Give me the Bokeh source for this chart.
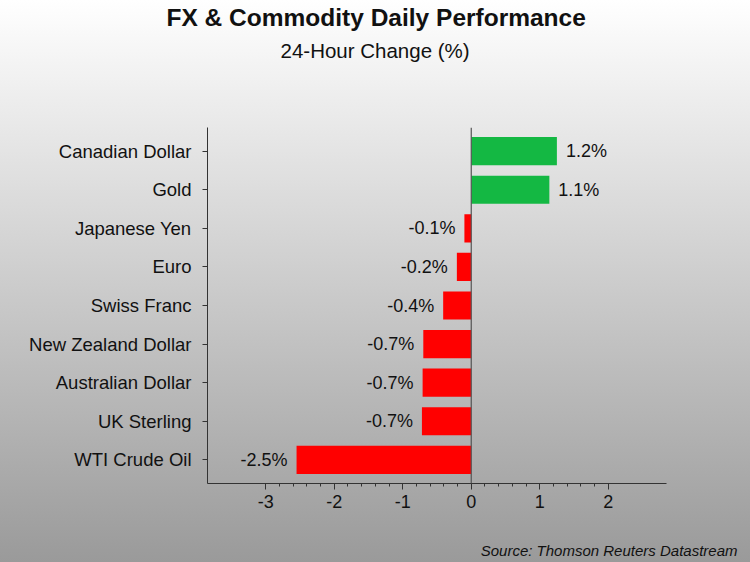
from bokeh.plotting import figure
from bokeh.models import (ColumnDataSource, FactorRange, Range1d, Span, Title, FixedTicker)
from bokeh.core.properties import value
from bokeh.embed import file_html
from bokeh.resources import INLINE

# ---- data ----
categories = ["Canadian Dollar", "Gold", "Japanese Yen", "Euro", "Swiss Franc",
              "New Zealand Dollar", "Australian Dollar", "UK Sterling", "WTI Crude Oil"]
changes = [1.25, 1.14, -0.10, -0.21, -0.41, -0.70, -0.71, -0.72, -2.55]
value_labels = ["1.2%", "1.1%", "-0.1%", "-0.2%", "-0.4%", "-0.7%", "-0.7%", "-0.7%", "-2.5%"]
x_ticks = [-3, -2, -1, 0, 1, 2]
minor_per_interval = 5

title_text = "FX & Commodity Daily Performance"
subtitle_text = "24-Hour Change (%)"
source_text = "Source: Thomson Reuters Datastream"

GREEN = "#14b843"
RED = "#ff0000"
FONT = "Liberation Sans"
INK = "#111111"

colors = [GREEN if v >= 0 else RED for v in changes]
aligns = ["left" if v >= 0 else "right" for v in changes]
offsets = [9 if v >= 0 else -9 for v in changes]
minor_ticks = [a + (b - a) * k / minor_per_interval
               for a, b in zip(x_ticks[:-1], x_ticks[1:])
               for k in range(1, minor_per_interval)]

src = ColumnDataSource(dict(cat=categories, val=changes, lab=value_labels,
                            color=colors, align=aligns, off=offsets))

p = figure(width=750, height=562, output_backend="svg", toolbar_location=None,
           title=None,
           y_range=FactorRange(factors=list(reversed(categories)), range_padding=0.025),
           x_range=Range1d(-3.85, 2.85),
           min_border_left=207, min_border_right=84, min_border_top=127, min_border_bottom=79)

p.styles = {"background": "linear-gradient(180deg, #ffffff 0%, #9a9a9a 100%)"}
p.border_fill_color = None
p.background_fill_color = None
p.outline_line_color = None
p.xgrid.grid_line_color = None
p.ygrid.grid_line_color = None

p.add_layout(Span(location=0, dimension="height", line_color="#555555", line_width=1.2))

p.hbar(y="cat", right="val", left=0, height=0.73, color="color", line_color=None, source=src)

p.text(x="val", y="cat", text="lab", x_offset="off", text_align="align",
       text_baseline="middle", text_font=value(FONT), text_font_size="18px",
       text_color=INK, source=src)

# axes
xa = p.xaxis[0]
xa.ticker = FixedTicker(ticks=x_ticks, minor_ticks=minor_ticks)
xa.major_label_overrides = {t: str(t) for t in x_ticks}
xa.axis_line_color = "#333333"
xa.major_tick_line_color = "#333333"
xa.minor_tick_line_color = "#333333"
xa.major_tick_out = 6
xa.major_tick_in = 0
xa.minor_tick_out = 3
xa.minor_tick_in = 0
xa.major_label_text_font = FONT
xa.major_label_text_font_size = "18px"
xa.major_label_text_color = INK
xa.major_label_standoff = 5

ya = p.yaxis[0]
ya.axis_line_color = "#333333"
ya.major_tick_line_color = "#333333"
ya.major_tick_out = 5
ya.major_tick_in = 0
ya.minor_tick_line_color = None
ya.major_label_text_font = FONT
ya.major_label_text_font_size = "18.5px"
ya.major_label_text_color = INK
ya.major_label_standoff = 11

# titles: nearest the frame first
p.add_layout(Title(text=subtitle_text, align="left", offset=73, standoff=0,
                   padding=dict(left=0, right=0, top=0, bottom=66),
                   text_font=FONT, text_font_size="20.5px", text_font_style="normal",
                   text_color=INK), "above")
p.add_layout(Title(text=title_text, align="left", offset=-41, standoff=0,
                   padding=dict(left=0, right=0, top=0, bottom=6),
                   text_font=FONT, text_font_size="24.5px", text_font_style="bold",
                   text_color=INK), "above")
p.add_layout(Title(text=source_text, align="right", offset=-71, standoff=0,
                   padding=dict(left=0, right=0, top=29, bottom=0),
                   text_font=FONT, text_font_size="15px", text_font_style="italic",
                   text_color=INK), "below")

open("out.html", "w").write(file_html(p, INLINE))
